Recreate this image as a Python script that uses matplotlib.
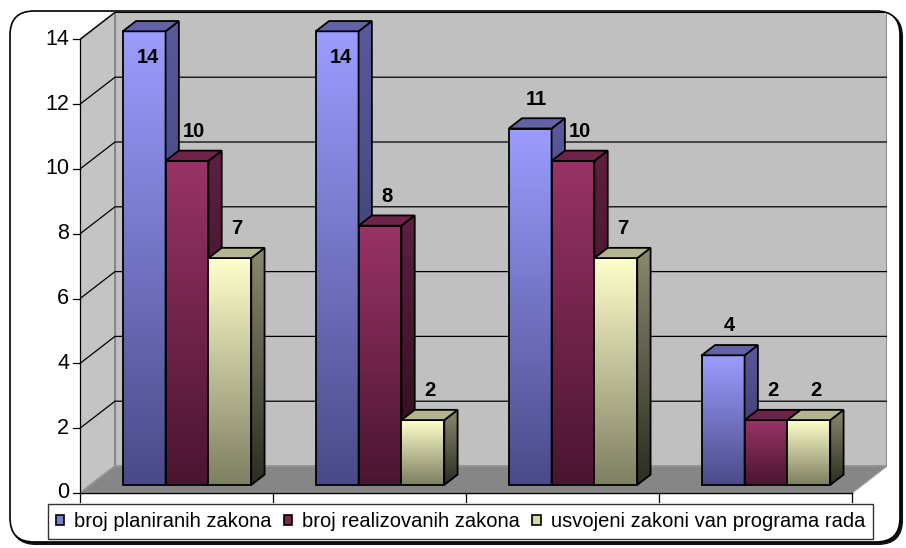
import numpy as np
import matplotlib
matplotlib.use('Agg')
import matplotlib.pyplot as plt
from matplotlib.patches import Polygon, FancyBboxPatch, Patch
from matplotlib.colors import LinearSegmentedColormap

plt.rcParams['font.family'] = ['Liberation Sans', 'DejaVu Sans']

# ---------------- data ----------------
categories = ['1', '2', '3', '4']
series_names = ['broj planiranih zakona', 'broj realizovanih zakona',
                'usvojeni zakoni van programa rada']
planirani = [14, 14, 11, 4]
realizovani = [10, 8, 10, 2]
van_programa = [7, 2, 7, 2]
y_ticks = [0, 2, 4, 6, 8, 10, 12, 14]

series = [planirani, realizovani, van_programa]
# (front top, front bottom, side top, side bottom, top face)
colors = [
    ('#9C9CFF', '#4A4A88', '#5A5A9C', '#30305A', '#6262A6'),
    ('#993366', '#4A1530', '#5E203F', '#2A0A1A', '#6E2348'),
    ('#FFFFCC', '#7E7E62', '#8A8A6E', '#2C2C20', '#B4B492'),
]
legend_colors = ['#7A7AD0', '#7A2850', '#D8D8AA']

# ---------------- layout ----------------
W, H = 906, 548
fig = plt.figure(figsize=(W / 100, H / 100), dpi=100)

# background / chart area
bg = fig.add_axes([0, 0, 1, 1], zorder=0)
bg.set_xlim(0, W)
bg.set_ylim(H, 0)
bg.axis('off')
bg.add_patch(FancyBboxPatch((12, 13), 890, 531, boxstyle='round,pad=0,rounding_size=24',
                            facecolor='#111111', edgecolor='#111111', lw=1.5))
bg.add_patch(FancyBboxPatch((10, 11), 890, 531, boxstyle='round,pad=0,rounding_size=24',
                            facecolor='white', edgecolor='black', lw=1.2))

ncat = len(categories)
YMAX = y_ticks[-1]
PXC = 193.0    # px per category
PXV = 32.4     # px per value unit
DX = 35 / PXC  # depth offset in category units
DY = 27 / PXV  # depth offset in value units
x0px, y0px = 80, 493

ax = fig.add_axes([x0px / W, (H - y0px) / H,
                   (ncat * PXC + 35) / W, (YMAX * PXV + 27) / H], zorder=1)
ax.set_facecolor('none')
ax.axis('off')
XL = (0, ncat + DX)
YL = (0, YMAX + DY)


def P(x, y, d):
    return (x + d * DX, y + d * DY)


# walls and floor
back = [P(0, 0, 1), P(ncat, 0, 1), P(ncat, YMAX, 1), P(0, YMAX, 1)]
left = [P(0, 0, 0), P(0, 0, 1), P(0, YMAX, 1), P(0, YMAX, 0)]
floor = [P(0, 0, 0), P(ncat, 0, 0), P(ncat, 0, 1), P(0, 0, 1)]
ax.add_patch(Polygon(back, closed=True, facecolor='#C0C0C0', edgecolor='#808080', lw=1.2, zorder=1))
ax.add_patch(Polygon(left, closed=True, facecolor='#C4C4C4', edgecolor='#808080', lw=1.2, zorder=1))
ax.add_patch(Polygon(floor, closed=True, facecolor='#868686', edgecolor='#9A9A9A', lw=1.0, zorder=1))

for t in y_ticks[1:]:
    pts = [P(0, t, 0), P(0, t, 1), P(ncat, t, 1)]
    ax.plot([p[0] for p in pts], [p[1] for p in pts], color='black', lw=0.9, zorder=2)

# value axis
ax.plot([0, 0], [0, YMAX], color='black', lw=0.9, zorder=3, clip_on=False)
for t in y_ticks:
    ax.plot([-7 / PXC, 0], [t, t], color='black', lw=0.9, clip_on=False, zorder=3)
    ax.text(-11 / PXC, t, str(t), ha='right', va='center', fontsize=15.5, zorder=3)

# category axis
ax.plot([0, ncat], [0, 0], color='black', lw=1.0, zorder=3, clip_on=False)
for i in range(ncat + 1):
    ax.plot([i, i], [0, -9 / PXV], color='black', lw=0.9, clip_on=False, zorder=3)


def grad_poly(verts, c_top, c_bot, z):
    xs = [v[0] for v in verts]
    ys = [v[1] for v in verts]
    cmap = LinearSegmentedColormap.from_list('g', [c_bot, c_top])
    img = ax.imshow(np.linspace(0, 1, 256).reshape(-1, 1), cmap=cmap, origin='lower',
                    extent=[min(xs), max(xs), min(ys), max(ys)], aspect='auto',
                    interpolation='bilinear', zorder=z)
    clip = Polygon(verts, closed=True, transform=ax.transData)
    img.set_clip_path(clip)
    ax.add_patch(Polygon(verts, closed=True, facecolor='none', edgecolor='black',
                         lw=1.3, zorder=z + 0.01, joinstyle='miter'))


bw = 0.222
d0, d1 = 0.30, 0.68
dm = (d0 + d1) / 2
z = 10
labels = []
for i in range(ncat):
    for j, vals in enumerate(series):
        v = vals[i]
        xa = i + 0.5 - 1.5 * bw + j * bw
        xb = xa + bw
        ct, cb, st, sb, tc = colors[j]
        front = [P(xa, 0, d0), P(xb, 0, d0), P(xb, v, d0), P(xa, v, d0)]
        side = [P(xb, 0, d0), P(xb, 0, d1), P(xb, v, d1), P(xb, v, d0)]
        top = [P(xa, v, d0), P(xb, v, d0), P(xb, v, d1), P(xa, v, d1)]
        grad_poly(front, ct, cb, z)
        grad_poly(side, st, sb, z + 0.1)
        ax.add_patch(Polygon(top, closed=True, facecolor=tc, edgecolor='black',
                             lw=1.3, zorder=z + 0.2, joinstyle='miter'))
        z += 1
        cx = (xa + xb) / 2 + dm * DX
        ly = v + dm * DY + 0.75
        if ly > YMAX + DY - 0.4:
            ly = v + d0 * DY - 0.8
            cx = (xa + xb) / 2 + d0 * DX + 0.02
        labels.append((cx, ly, v))

for cx, ly, v in labels:
    ax.text(cx, ly, str(v), ha='center', va='center', fontsize=14.5,
            fontweight='bold', zorder=100)

ax.set_xlim(*XL)
ax.set_ylim(*YL)

# legend
handles = [Patch(facecolor=c, edgecolor='black', lw=1.2) for c in legend_colors]
leg = fig.legend(handles, series_names, loc='center',
                 bbox_to_anchor=(460.5 / W, 1 - 521.5 / H), ncol=3, frameon=True,
                 fancybox=False, edgecolor='black', fontsize=14.5,
                 handlelength=0.42, handleheight=0.42, handletextpad=0.5,
                 columnspacing=0.6, borderpad=0.4, borderaxespad=0)
leg.get_frame().set_linewidth(1.0)
leg.set_zorder(5)

fig.savefig('out.png', dpi=100)
